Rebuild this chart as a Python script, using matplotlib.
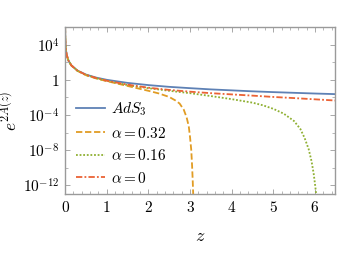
import numpy as np
import matplotlib
matplotlib.use("Agg")
import matplotlib.pyplot as plt
from matplotlib.ticker import FixedLocator, MultipleLocator, NullFormatter

plt.rcParams['font.family'] = 'serif'
plt.rcParams['font.serif'] = ['DejaVu Serif']
plt.rcParams['mathtext.fontset'] = 'cm'

# readings, y given as log10 of e^{2A(z)}
z_ads = [0.001, 0.003, 0.01, 0.02, 0.04, 0.08, 0.15, 0.3, 0.5, 0.75, 1.0, 1.5, 2.0,
         2.5, 3.0, 3.5, 4.0, 4.5, 5.0, 5.5, 6.0, 6.5]
log_ads = [6.0, 5.05, 4.0, 3.4, 2.8, 2.2, 1.65, 1.05, 0.6, 0.25, 0.0, -0.35, -0.6,
           -0.8, -0.95, -1.09, -1.2, -1.31, -1.4, -1.48, -1.56, -1.63]

z_a0 = [0.001, 0.003, 0.01, 0.02, 0.04, 0.08, 0.15, 0.3, 0.5, 0.75, 1.0, 1.5, 2.0,
        2.5, 3.0, 3.5, 4.0, 4.5, 5.0, 5.5, 6.0, 6.5]
log_a0 = [6.0, 5.05, 4.0, 3.4, 2.8, 2.2, 1.64, 1.03, 0.57, 0.2, -0.1, -0.55, -0.9,
          -1.15, -1.35, -1.52, -1.66, -1.8, -1.95, -2.08, -2.22, -2.36]

z_a16 = [0.001, 0.003, 0.01, 0.02, 0.04, 0.08, 0.15, 0.3, 0.5, 0.75, 1.0, 1.5, 2.0,
         2.5, 3.0, 3.5, 4.0, 4.5, 4.75, 5.0, 5.25, 5.5, 5.65, 5.75, 5.85, 5.92,
         5.97, 6.01, 6.04]
log_a16 = [6.0, 5.05, 4.0, 3.4, 2.8, 2.2, 1.64, 1.02, 0.55, 0.18, -0.12, -0.6, -0.95,
           -1.25, -1.52, -1.85, -2.2, -2.6, -2.9, -3.3, -3.85, -4.7, -5.6, -6.6, -7.9,
           -9.3, -10.7, -12.2, -13.5]

z_a32 = [0.001, 0.003, 0.01, 0.02, 0.04, 0.08, 0.15, 0.3, 0.5, 0.75, 1.0, 1.5, 2.0,
         2.25, 2.5, 2.65, 2.75, 2.85, 2.92, 2.97, 3.0, 3.03, 3.05, 3.065, 3.08]
log_a32 = [6.0, 5.05, 4.0, 3.4, 2.8, 2.2, 1.63, 1.01, 0.53, 0.15, -0.15, -0.7, -1.25,
           -1.55, -1.95, -2.35, -2.7, -3.4, -4.3, -5.3, -6.5, -8.0, -9.8, -11.5, -13.5]

xticks = [0, 1, 2, 3, 4, 5, 6]
yticks = [1e-12, 1e-8, 1e-4, 1, 1e4]
ytick_labels = [r'$10^{-12}$', r'$10^{-8}$', r'$10^{-4}$', r'$1$', r'$10^{4}$']

fig = plt.figure(figsize=(3.39, 2.71), dpi=100)
ax = fig.add_axes([0.192, 0.284, 0.796, 0.616])

ax.plot(z_ads, 10.0 ** np.array(log_ads), color='#5E81B5', lw=1.3, ls='-',
        label=r'$AdS_3$')
ax.plot(z_a32, 10.0 ** np.array(log_a32), color='#E19C24', lw=1.3, ls=(0, (3.5, 1.5)),
        label=r'$\alpha=0.32$')
ax.plot(z_a16, 10.0 ** np.array(log_a16), color='#8FB032', lw=1.3, ls=(0, (1, 1)),
        label=r'$\alpha=0.16$')
ax.plot(z_a0, 10.0 ** np.array(log_a0), color='#EB6235', lw=1.3, ls=(0, (3.5, 1.2, 1, 1.2)),
        label=r'$\alpha=0$')

ax.set_yscale('log')
ax.set_xlim(0, 6.48)
ax.set_ylim(1e-13, 1e6)

ax.set_xticks(xticks)
ax.set_xticklabels([f'${i}$' for i in xticks])
ax.xaxis.set_minor_locator(MultipleLocator(0.2))

ax.yaxis.set_major_locator(FixedLocator(yticks))
ax.set_yticklabels(ytick_labels)
ax.yaxis.set_minor_locator(FixedLocator([1e-10, 1e-6, 1e-2, 1e2]))
ax.yaxis.set_minor_formatter(NullFormatter())

for s in ax.spines.values():
    s.set_color('#9a9a9a')
    s.set_linewidth(1.0)
ax.tick_params(which='both', direction='in', top=True, right=True, color='#9a9a9a',
               labelsize=11, pad=4)
ax.tick_params(which='major', length=3.5, width=0.6)
ax.tick_params(which='minor', length=2, width=0.5)

ax.set_xlabel(r'$z$', fontsize=13)
ax.xaxis.set_label_coords(0.5, -0.2)
ax.set_ylabel(r'$e^{2A(z)}$', fontsize=12.5)
ax.yaxis.set_label_coords(-0.165, 0.5)

ax.legend(loc='lower left', bbox_to_anchor=(0.0, -0.015), frameon=False, fontsize=11,
          handlelength=1.9, handletextpad=0.4, labelspacing=0.5, borderaxespad=0.3)

fig.savefig('out.png', dpi=100)
